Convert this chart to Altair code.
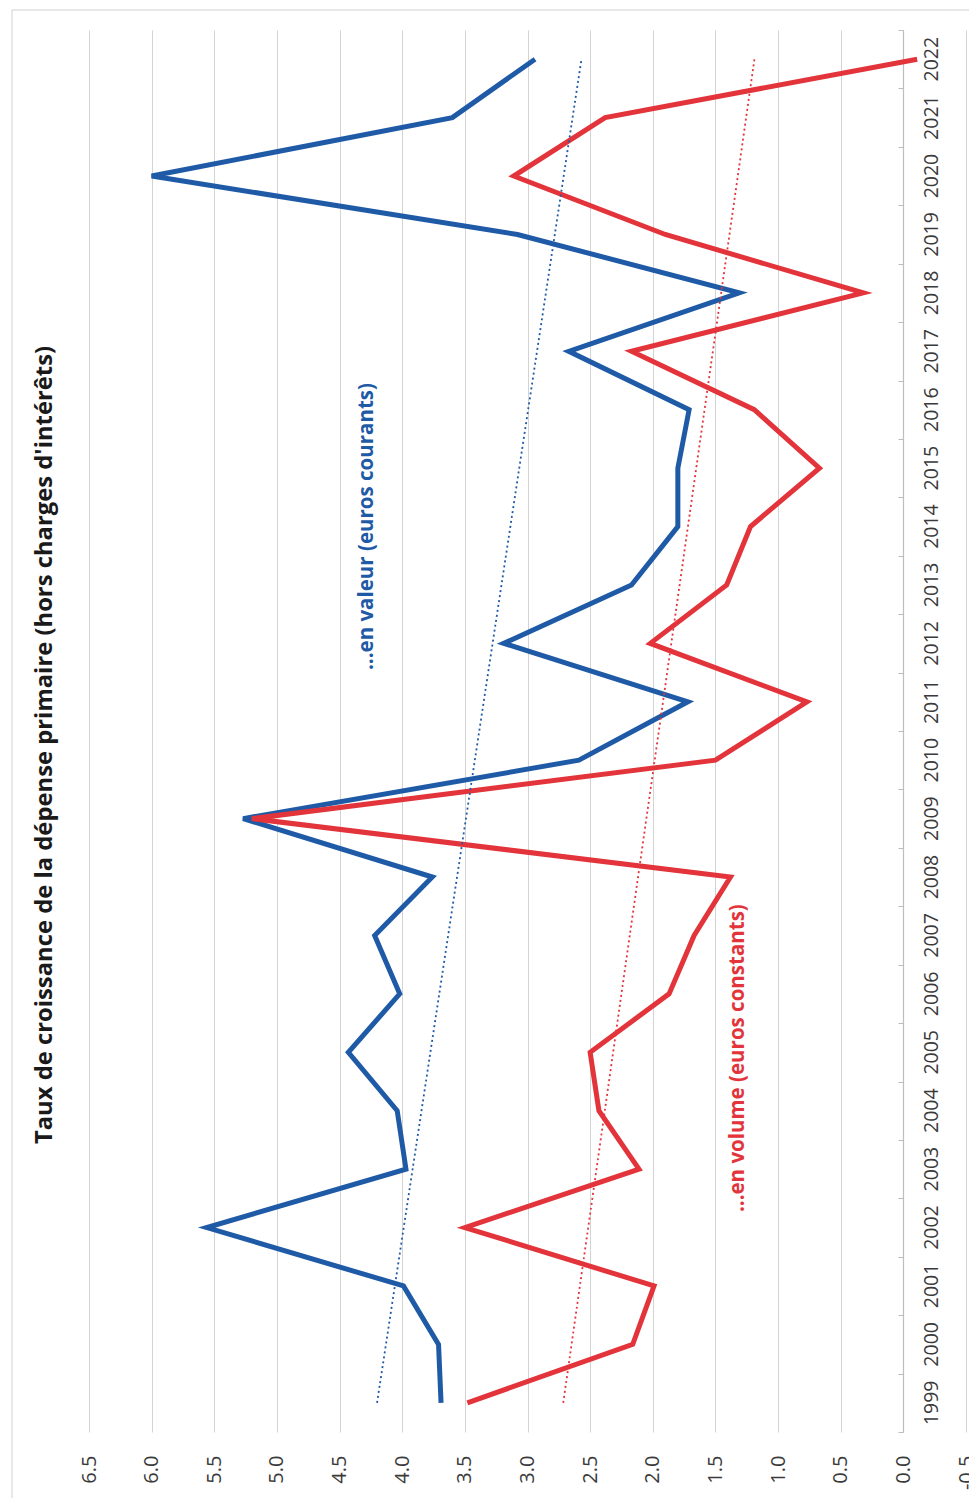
import altair as alt
import pandas as pd

# Growth rate of primary spending (excluding interest), in %
YEARS = list(range(1999, 2023))
VALEUR = [3.69, 3.71, 3.99, 5.56, 3.97, 4.04, 4.43, 4.02, 4.22, 3.76, 5.27, 2.59,
          1.72, 3.19, 2.17, 1.80, 1.80, 1.71, 2.67, 1.31, 3.08, 6.00, 3.60, 2.94]
VOLUME = [3.48, 2.16, 1.99, 3.50, 2.11, 2.43, 2.50, 1.87, 1.67, 1.38, 5.20, 1.50,
          0.77, 2.02, 1.41, 1.22, 0.67, 1.19, 2.17, 0.32, 1.90, 3.11, 2.38, -0.11]
SERIES = ["valeur", "volume"]
COLORS = ["#1f5aa6", "#e2343a"]
VALUE_TICKS = [-0.5, 0.0, 0.5, 1.0, 1.5, 2.0, 2.5, 3.0, 3.5, 4.0, 4.5, 5.0, 5.5, 6.0, 6.5]

TITLE = "Taux de croissance de la dépense primaire (hors charges d'intérêts)"
LABEL_VALEUR = "...en valeur (euros courants)"
LABEL_VOLUME = "...en volume (euros constants)"

FONT = "Open Sans"
TEXT_GREY = "#3a3a3a"

df = pd.DataFrame({
    "year": YEARS * 2,
    "value": VALEUR + VOLUME,
    "series": [SERIES[0]] * len(YEARS) + [SERIES[1]] * len(YEARS),
})
years_df = pd.DataFrame({"year": YEARS})
one_row = alt.Chart(years_df).transform_filter(alt.datum.year == YEARS[0])

x_scale = alt.Scale(domain=[-0.5, 6.5], reverse=True, nice=False, zero=False)
y_scale = alt.Scale(domain=[YEARS[0] - 0.5, YEARS[-1] + 0.5], nice=False, zero=False)
color_scale = alt.Scale(domain=SERIES, range=COLORS)

# category axis ticks: at each year and between years
year_ticks = sorted([y for y in YEARS] + [y - 0.5 for y in YEARS] + [YEARS[-1] + 0.5])

x_enc = alt.X(
    "value:Q", scale=x_scale, title=None,
    axis=alt.Axis(values=VALUE_TICKS, grid=True, gridColor="#d3d3d3", gridWidth=1,
                  domain=False, ticks=False, labelAngle=270, labelPadding=23,
                  labelFontSize=20, labelFont=FONT, labelColor=TEXT_GREY,
                  labelExpr="replace(format(datum.value, '.1f'), '\u2212', '-')"),
)
y_enc = alt.Y(
    "year:Q", scale=y_scale, title=None,
    axis=alt.Axis(orient="left", offset=-814, values=year_ticks, labels=False, grid=False,
                  domainColor="#bdbdbd", tickColor="#bdbdbd", tickSize=5, domainWidth=1.2),
)

base = alt.Chart(df)

lines = base.mark_line(strokeWidth=5, strokeJoin="miter").encode(
    x=x_enc,
    y=y_enc,
    color=alt.Color("series:N", scale=color_scale, legend=None),
    order="year:Q",
)

trends = base.transform_regression(
    "year", "value", groupby=["series"]
).mark_line(strokeWidth=1.8, strokeDash=[2, 3]).encode(
    x=alt.X("value:Q", scale=x_scale),
    y=alt.Y("year:Q", scale=y_scale),
    color=alt.Color("series:N", scale=color_scale, legend=None),
)

year_labels = alt.Chart(years_df).mark_text(
    angle=270, fontSize=19.5, font=FONT, color=TEXT_GREY, align="center", baseline="middle"
).encode(
    x=alt.datum(-0.23, scale=x_scale),
    y=alt.Y("year:Q", scale=y_scale),
    text=alt.Text("year:Q", format="d"),
)

# outer frame of the chart area (top and left edges)
frame_top = one_row.mark_rule(color="#d0d0d0", strokeWidth=1).encode(
    x=alt.value(-77), x2=alt.value(880), y=alt.value(-20)
)
frame_left = one_row.mark_rule(color="#d0d0d0", strokeWidth=1).encode(
    x=alt.value(-77), y=alt.value(-20), y2=alt.value(1468)
)

title = one_row.mark_text(
    text=TITLE, angle=270, fontSize=23.8, fontWeight="bold", font=FONT, color="#1a1a1a",
    align="center", baseline="middle",
).encode(x=alt.value(-44), y=alt.value(715))

note_valeur = one_row.mark_text(
    text=LABEL_VALEUR, angle=270, fontSize=20.5, fontWeight="bold", font=FONT, color=COLORS[0],
    align="center", baseline="middle",
).encode(x=alt.datum(4.28, scale=x_scale), y=alt.datum(2014.0, scale=y_scale))

note_volume = one_row.mark_text(
    text=LABEL_VOLUME, angle=270, fontSize=20.5, fontWeight="bold", font=FONT, color=COLORS[1],
    align="center", baseline="middle",
).encode(x=alt.datum(1.32, scale=x_scale), y=alt.datum(2004.9, scale=y_scale))

chart = alt.layer(
    lines, trends, year_labels, frame_top, frame_left, title, note_valeur, note_volume
).properties(
    width=877,
    height=1402,
    padding={"left": 89, "top": 30, "right": 3, "bottom": 66},
    autosize=alt.AutoSizeParams(type="none"),
    background="white",
).configure_view(stroke=None)

chart.save("out.html", embed_options={"renderer": "svg", "actions": False})
